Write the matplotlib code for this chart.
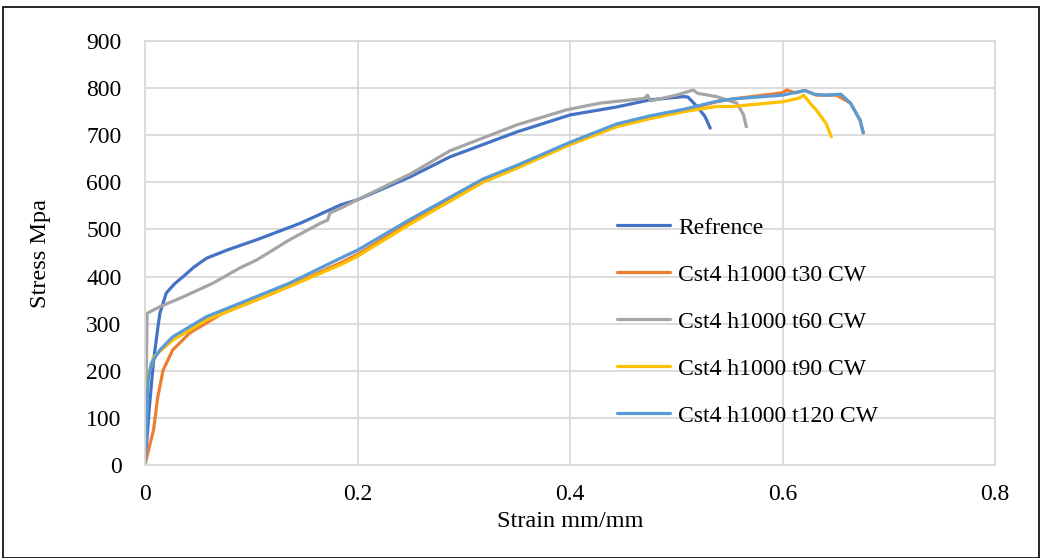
import matplotlib
matplotlib.use("Agg")
import matplotlib.pyplot as plt
from matplotlib.patches import Rectangle

# ---- data ----
ref_strain = [0, 0.004, 0.008, 0.012, 0.014, 0.020, 0.028, 0.036, 0.046, 0.058, 0.077, 0.105, 0.146,
              0.184, 0.2, 0.25, 0.287, 0.35, 0.4, 0.444, 0.475, 0.507, 0.511, 0.52, 0.527, 0.532]
ref_stress = [0, 120, 220, 290, 322, 365, 385, 400, 420, 439, 456, 478, 513,
              552, 563, 612, 654, 707, 743, 760, 775, 782, 781, 760, 740, 715]

t30_strain = [0, 0.002, 0.008, 0.012, 0.017, 0.026, 0.042, 0.073, 0.121, 0.184, 0.2, 0.25, 0.318,
              0.35, 0.4, 0.444, 0.475, 0.507, 0.538, 0.553, 0.6, 0.604, 0.612, 0.621, 0.632, 0.651,
              0.664, 0.673, 0.676]
t30_stress = [0, 20, 74, 144, 201, 244, 280, 322, 365, 429, 447, 516, 603,
              633, 683, 722, 739, 753, 771, 777, 790, 796, 790, 795, 785, 785,
              768, 732, 705]

t60_strain = [0, 0.001, 0.002, 0.014, 0.036, 0.064, 0.089, 0.105, 0.136, 0.165, 0.172, 0.174, 0.184,
              0.2, 0.25, 0.287, 0.35, 0.397, 0.428, 0.47, 0.473, 0.476, 0.5, 0.516, 0.52, 0.538,
              0.557, 0.563, 0.566]
t60_stress = [0, 160, 322, 336, 357, 386, 418, 435, 478, 513, 520, 535, 545,
              563, 618, 667, 722, 754, 768, 778, 785, 773, 785, 796, 789, 782,
              768, 745, 718]

t90_strain = [0, 0.002, 0.008, 0.026, 0.058, 0.089, 0.136, 0.184, 0.2, 0.25, 0.318, 0.35, 0.4,
              0.444, 0.475, 0.507, 0.538, 0.553, 0.6, 0.616, 0.62, 0.626, 0.632, 0.641, 0.646]
t90_stress = [0, 180, 229, 265, 308, 336, 379, 425, 443, 512, 600, 630, 680,
              718, 735, 750, 761, 761, 771, 779, 785, 768, 753, 725, 697]

t120_strain = [0, 0.003, 0.006, 0.014, 0.026, 0.058, 0.089, 0.136, 0.184, 0.2, 0.25, 0.318, 0.35,
               0.4, 0.444, 0.475, 0.507, 0.538, 0.553, 0.6, 0.621, 0.63, 0.64, 0.655, 0.664, 0.673, 0.676]
t120_stress = [0, 180, 216, 244, 272, 315, 343, 386, 439, 456, 522, 607, 636,
               685, 724, 741, 755, 772, 777, 785, 795, 787, 785, 787, 768, 732, 705]

series = [
    ("Refrence", ref_strain, ref_stress, "#4472C4"),
    ("Cst4 h1000 t30 CW", t30_strain, t30_stress, "#ED7D31"),
    ("Cst4 h1000 t60 CW", t60_strain, t60_stress, "#A5A5A5"),
    ("Cst4 h1000 t90 CW", t90_strain, t90_stress, "#FFC000"),
    ("Cst4 h1000 t120 CW", t120_strain, t120_stress, "#5B9BD5"),
]
x_ticks = [0, 0.2, 0.4, 0.6, 0.8]
x_labels = ["0", "0.2", "0.4", "0.6", "0.8"]
y_ticks = [0, 100, 200, 300, 400, 500, 600, 700, 800, 900]

plt.rcParams['font.family'] = ['Liberation Serif', 'DejaVu Serif']

fig = plt.figure(figsize=(10.43, 5.58), dpi=100)
ax = fig.add_axes([145/1043, 1-465/558, 850/1043, 424/558])

for name, xs, ys, c in series:
    ax.plot(xs, ys, color=c, lw=2.3, label=name, solid_capstyle='round', solid_joinstyle='round')

ax.set_xlim(0, 0.8)
ax.set_ylim(0, 900)
ax.set_xticks(x_ticks)
ax.set_xticklabels(x_labels)
ax.set_yticks(y_ticks)
ax.grid(True, color="#D9D9D9", lw=1.3)
ax.set_axisbelow(True)
for s in ax.spines.values():
    s.set_color("#D9D9D9")
    s.set_linewidth(1.3)
ax.tick_params(length=0, labelsize=17, pad=17, colors="black")
ax.tick_params(axis='x', pad=14)
ax.set_xlabel("Strain mm/mm", fontsize=17.5, labelpad=4)
ax.set_ylabel("Stress Mpa", fontsize=17.5, labelpad=25)

leg = ax.legend(loc='upper left', bbox_to_anchor=(472/850, (465-217)/424), frameon=False,
                fontsize=17, handlelength=2.25, handletextpad=0.35, labelspacing=1.08,
                borderaxespad=0, borderpad=0)

fig.patches.append(Rectangle((3/1043, 0), 1036/1043, 1-7/558, transform=fig.transFigure,
                             fill=False, edgecolor="black", lw=1.2))

fig.savefig("out.png", dpi=100)
